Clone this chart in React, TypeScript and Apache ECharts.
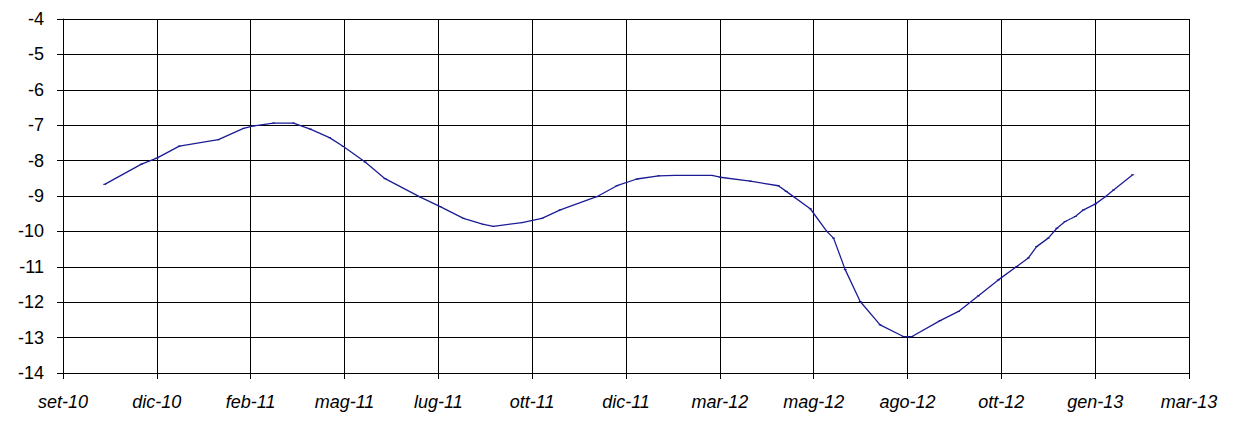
import React, { useEffect, useRef } from "react";
import * as echarts from "echarts";

// x-axis tick labels (one every 2.5 months, starting at set-10)
const tickLabels = [
  "set-10", "dic-10", "feb-11", "mag-11", "lug-11", "ott-11", "dic-11",
  "mar-12", "mag-12", "ago-12", "ott-12", "gen-13", "mar-13",
];

// x positions of the points, in months since the set-10 tick
const months = [
  1.11, 2.09, 2.5, 3.1, 4.14, 4.81, 5.08, 5.61, 6.14, 6.59, 7.1, 7.47, 8.05,
  8.58, 9.52, 10.05, 10.67, 11.2, 11.47, 12.23, 12.76, 13.25, 14.22, 14.76,
  15.29, 15.87, 16.31, 17.29, 17.51, 18.31, 19.06, 19.27, 19.91, 20.35, 20.53,
  20.84, 21.24, 21.77, 22.39, 22.62, 23.37, 23.86, 24.39, 24.92, 25.41, 25.72,
  25.94, 26.25, 26.48, 26.7, 26.97, 27.19, 27.5, 27.77, 27.99, 28.5,
];

const values = [
  -8.67, -8.1, -7.93, -7.59, -7.41, -7.09, -7.02, -6.94, -6.94, -7.11, -7.35,
  -7.6, -8.04, -8.51, -9.03, -9.3, -9.63, -9.8, -9.86, -9.75, -9.63, -9.39,
  -9.02, -8.71, -8.52, -8.43, -8.42, -8.42, -8.47, -8.58, -8.71, -8.87, -9.36,
  -10.0, -10.19, -11.08, -11.98, -12.64, -12.97, -12.97, -12.52, -12.26,
  -11.82, -11.37, -10.99, -10.75, -10.43, -10.19, -9.91, -9.72, -9.58, -9.39,
  -9.23, -9.02, -8.83, -8.4,
];

const MONTHS_PER_TICK = 2.5;

export default function App() {
  const ref = useRef<HTMLDivElement>(null);

  useEffect(() => {
    if (!ref.current) return;
    const chart = echarts.init(ref.current, null, { renderer: "svg" });
    const data = months.map((m, i) => [m, values[i]]);
    chart.setOption({
      animation: false,
      backgroundColor: "#ffffff",
      grid: { left: 63, right: 47, top: 19, bottom: 48, containLabel: false },
      xAxis: {
        type: "value",
        min: 0,
        max: MONTHS_PER_TICK * (tickLabels.length - 1),
        interval: MONTHS_PER_TICK,
        axisLine: { show: true, onZero: false, lineStyle: { color: "#000", width: 1 } },
        axisTick: { show: true, length: 6, lineStyle: { color: "#000" } },
        splitLine: { show: true, lineStyle: { color: "#000", width: 1 } },
        axisLabel: {
          margin: 20,
          fontFamily: "Liberation Sans",
          fontSize: 18,
          fontStyle: "italic",
          color: "#000",
          formatter: (v: number) => tickLabels[Math.round(v / MONTHS_PER_TICK)] ?? "",
        },
      },
      yAxis: {
        type: "value",
        min: -14,
        max: -4,
        interval: 1,
        axisLine: { show: true, lineStyle: { color: "#000", width: 1 } },
        axisTick: { show: true, length: 6, lineStyle: { color: "#000" } },
        splitLine: { show: true, lineStyle: { color: "#000", width: 1 } },
        axisLabel: {
          margin: 19,
          fontFamily: "Liberation Sans",
          fontSize: 18,
          color: "#000",
        },
      },
      series: [
        {
          type: "line",
          data,
          smooth: false,
          symbol: "rect",
          symbolSize: [3, 1],
          itemStyle: { color: "#1c1c96" },
          lineStyle: { color: "#1c1c96", width: 1.3 },
        },
      ],
    });
    return () => chart.dispose();
  }, []);

  return (
    <div
      ref={ref}
      style={{ position: "absolute", left: 0, top: 0, width: 1236, height: 421 }}
    />
  );
}
